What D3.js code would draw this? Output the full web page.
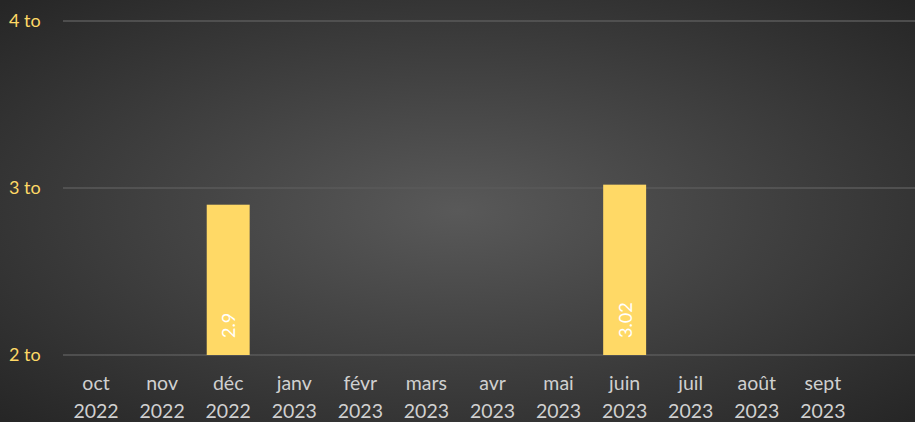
<!DOCTYPE html>
<html>
<head>
<meta charset="utf-8">
<script src="https://cdn.jsdelivr.net/npm/d3@7"></script>
<style>
  html, body { margin: 0; padding: 0; background: #262626; }
  svg { display: block; }
</style>
</head>
<body>
<svg id="chart" width="915" height="422"></svg>
<script>
var months = ['oct', 'nov', 'déc', 'janv', 'févr', 'mars', 'avr', 'mai', 'juin', 'juil', 'août', 'sept', ''];
var years = ['2022', '2022', '2022', '2023', '2023', '2023', '2023', '2023', '2023', '2023', '2023', '2023', ''];
var values = [null, null, 2.9, null, null, null, null, null, 3.02, null, null, null, null];
var yTicks = [2, 3, 4];
var yTickLabels = ['2 to', '3 to', '4 to'];

var width = 915, height = 422;
var svg = d3.select('#chart');

var defs = svg.append('defs');
var grad = defs.append('radialGradient')
  .attr('id', 'bg')
  .attr('cx', '50%').attr('cy', '50%').attr('r', '70%');
grad.append('stop').attr('offset', '0%').attr('stop-color', '#595959');
grad.append('stop').attr('offset', '100%').attr('stop-color', '#262626');

svg.append('rect')
  .attr('width', width)
  .attr('height', height)
  .attr('fill', 'url(#bg)');

var x = d3.scaleBand()
  .domain(d3.range(months.length))
  .range([63, 922])
  .paddingInner(0.35)
  .paddingOuter(0.175);

var y = d3.scaleLinear()
  .domain([2, 4])
  .range([355, 21]);

// gridlines
svg.append('g')
  .selectAll('line')
  .data(yTicks)
  .join('line')
    .attr('x1', 63)
    .attr('x2', width)
    .attr('y1', y)
    .attr('y2', y)
    .attr('stroke', '#5a5a5a')
    .attr('stroke-width', 1.5);

// y labels
svg.append('g')
  .selectAll('text')
  .data(yTicks)
  .join('text')
    .attr('x', 9)
    .attr('y', function(d) { return y(d) + 6; })
    .attr('fill', '#ffd966')
    .attr('font-family', 'Lato, sans-serif')
    .attr('font-size', 18)
    .text(function(d, i) { return yTickLabels[i]; });

var barData = values
  .map(function(v, i) { return {i: i, v: v}; })
  .filter(function(d) { return d.v !== null; });

svg.append('g')
  .selectAll('rect')
  .data(barData)
  .join('rect')
    .attr('x', function(d) { return x(d.i); })
    .attr('width', x.bandwidth())
    .attr('y', function(d) { return y(d.v); })
    .attr('height', function(d) { return y(2) - y(d.v); })
    .attr('fill', '#ffd966');

svg.append('g')
  .selectAll('text')
  .data(barData)
  .join('text')
    .attr('transform', function(d) {
      return 'translate(' + (x(d.i) + x.bandwidth() / 2 + 7) + ',338) rotate(-90)';
    })
    .attr('fill', '#ffffff')
    .attr('font-family', 'Lato, sans-serif')
    .attr('font-size', 18)
    .attr('text-anchor', 'start')
    .text(function(d) { return d.v; });

// x labels, two lines
var xl = svg.append('g')
  .selectAll('text')
  .data(months)
  .join('text')
    .attr('x', function(d, i) { return x(i) + x.bandwidth() / 2; })
    .attr('text-anchor', 'middle')
    .attr('fill', '#d0d0d0')
    .attr('font-family', 'Lato, sans-serif')
    .attr('font-size', 19.5);
xl.append('tspan')
  .attr('y', 390)
  .text(function(d) { return d; });
xl.append('tspan')
  .attr('x', function(d, i) { return x(i) + x.bandwidth() / 2; })
  .attr('y', 418)
  .text(function(d, i) { return years[i]; });
</script>
</body>
</html>
